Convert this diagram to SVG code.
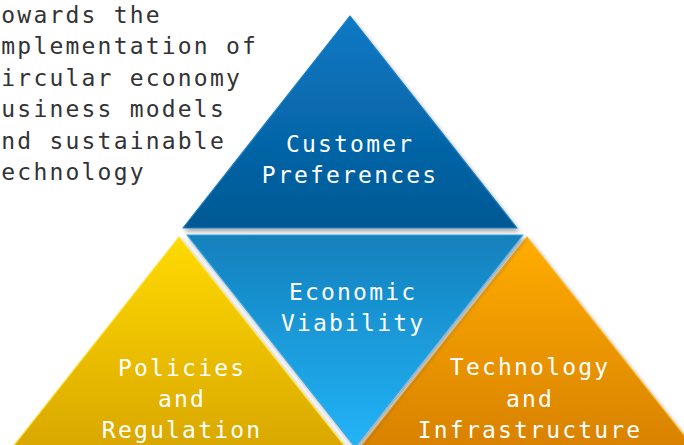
<svg xmlns="http://www.w3.org/2000/svg" width="684" height="445" viewBox="0 0 684 445">
  <defs>
    <linearGradient id="gTop" x1="0" y1="0" x2="0" y2="1">
      <stop offset="0" stop-color="#0a79c5"/>
      <stop offset="1" stop-color="#035893"/>
    </linearGradient>
    <linearGradient id="gMid" x1="0" y1="0" x2="0" y2="1">
      <stop offset="0" stop-color="#1480bc"/>
      <stop offset="1" stop-color="#22b4f8"/>
    </linearGradient>
    <linearGradient id="gYel" x1="0" y1="0" x2="0" y2="1">
      <stop offset="0" stop-color="#ffda00"/>
      <stop offset="1" stop-color="#d9a700"/>
    </linearGradient>
    <linearGradient id="gOra" x1="0" y1="0" x2="0" y2="1">
      <stop offset="0" stop-color="#ffad00"/>
      <stop offset="1" stop-color="#d88100"/>
    </linearGradient>
    <filter id="shadow" x="-10%" y="-10%" width="120%" height="125%">
      <feDropShadow dx="2" dy="3" stdDeviation="2" flood-color="#000" flood-opacity="0.35"/>
    </filter>
  </defs>
  <style>
    .tri { filter: url(#shadow); stroke-width: 1.2; stroke-linejoin: round; }
    .lbl { font-family: "DejaVu Sans Mono", "Liberation Mono", monospace; font-size: 23px; letter-spacing: 2.2px; fill: #ffffff; text-anchor: middle; }
    .side { font-family: "DejaVu Sans Mono", "Liberation Mono", monospace; font-size: 23px; letter-spacing: 2.2px; fill: #333333; }
  </style>
  <rect width="684" height="445" fill="#ffffff"/>

  <g id="intro-text">
    <text class="side" x="1.3" y="23">owards the</text>
    <text class="side" x="1.3" y="54.4">mplementation of</text>
    <text class="side" x="1.3" y="85.8">ircular economy</text>
    <text class="side" x="1.3" y="117.2">usiness models</text>
    <text class="side" x="1.3" y="148.6">nd sustainable</text>
    <text class="side" x="1.3" y="180">echnology</text>
  </g>

  <g id="policies">
    <polygon class="tri" points="179,237 11,449 347,449" fill="url(#gYel)" stroke="#ffe23a"/>
    <text class="lbl" x="182.1" y="376">Policies</text>
    <text class="lbl" x="182.1" y="407">and</text>
    <text class="lbl" x="182.1" y="438">Regulation</text>
  </g>

  <g id="technology">
    <polygon class="tri" points="527,237 359,449 695,449" fill="url(#gOra)" stroke="#ffb829"/>
    <text class="lbl" x="530.1" y="375">Technology</text>
    <text class="lbl" x="530.1" y="407">and</text>
    <text class="lbl" x="530.1" y="438">Infrastructure</text>
  </g>

  <g id="economic">
    <polygon class="tri" points="187,235 523,235 355,447" fill="url(#gMid)" stroke="#3aa8e0"/>
    <text class="lbl" x="353.1" y="300">Economic</text>
    <text class="lbl" x="353.1" y="331">Viability</text>
  </g>

  <g id="customer">
    <polygon class="tri" points="350,16 183,228 517,228" fill="url(#gTop)" stroke="#1a80c8"/>
    <text class="lbl" x="350.1" y="152">Customer</text>
    <text class="lbl" x="350.1" y="183">Preferences</text>
  </g>

  <g id="connectors"/>
</svg>
